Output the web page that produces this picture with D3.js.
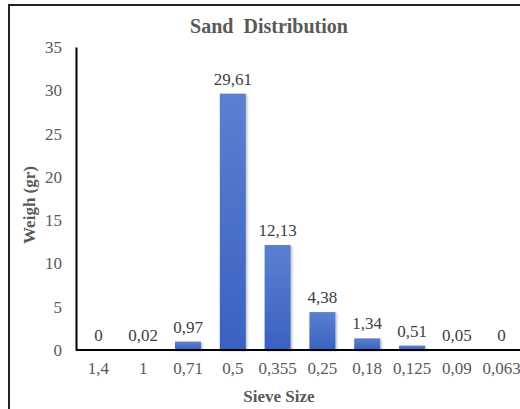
<!DOCTYPE html>
<html><head><meta charset="utf-8">
<script src="https://cdn.jsdelivr.net/npm/d3@7"></script>
<style>body{margin:0;background:#fff}svg{display:block}
text{font-family:"Liberation Serif","Times New Roman",Tinos,"DejaVu Serif",serif;}</style>
</head><body>
<script>
const categories = ["1,4","1","0,71","0,5","0,355","0,25","0,18","0,125","0,09","0,063"];
const values = [0,0.02,0.97,29.61,12.13,4.38,1.34,0.51,0.05,0];
const valueLabels = ["0","0,02","0,97","29,61","12,13","4,38","1,34","0,51","0,05","0"];
const yTicks = [0,5,10,15,20,25,30,35];

const W=520,H=409;
const svg=d3.select("body").append("svg").attr("width",W).attr("height",H);
const defs=svg.append("defs");
const g=defs.append("linearGradient").attr("id","bg").attr("x1",0).attr("y1",0).attr("x2",0).attr("y2",1);
g.append("stop").attr("offset","0%").attr("stop-color","#5b80cf");
g.append("stop").attr("offset","100%").attr("stop-color","#3a61c2");
const f=defs.append("filter").attr("id","sh").attr("x","-20%").attr("y","-20%").attr("width","150%").attr("height","150%");
f.append("feDropShadow").attr("dx",1.5).attr("dy",1).attr("stdDeviation",1.2).attr("flood-color","#000").attr("flood-opacity",0.25);

svg.append("rect").attr("x",9).attr("y",5).attr("width",W).attr("height",H).attr("fill","#fff").attr("stroke","#222").attr("stroke-width",2);

const x=d3.scaleBand().domain(categories).range([76,524]).paddingInner(0.42).paddingOuter(0.21);
const y=d3.scaleLinear().domain([0,35]).range([350,47]);

svg.append("g").selectAll("rect").data(values).join("rect")
  .attr("x",(d,i)=>x(categories[i])).attr("width",x.bandwidth())
  .attr("y",d=>y(d)).attr("height",d=>y(0)-y(d))
  .attr("fill","url(#bg)").attr("filter","url(#sh)");

svg.append("g").selectAll("text").data(values).join("text")
  .attr("x",(d,i)=>x(categories[i])+x.bandwidth()/2).attr("y",d=>y(d)-9)
  .attr("text-anchor","middle").attr("font-size",17).attr("fill","#404040")
  .text((d,i)=>valueLabels[i]);

// y axis
const ya=svg.append("g").attr("transform","translate(76,0)").call(d3.axisLeft(y).tickValues(yTicks).tickSize(0).tickPadding(14));
ya.select(".domain").attr("stroke","#000").attr("stroke-width",2);
ya.selectAll("text").attr("font-family",null).attr("font-size",17).attr("fill","#595959");
ya.attr("font-family",null);

// x axis
const xa=svg.append("g").attr("transform","translate(0,350)").call(d3.axisBottom(x).tickSize(0).tickPadding(12));
xa.select(".domain").attr("stroke","#000").attr("stroke-width",2).attr("d","M76,0H520");
xa.selectAll("text").attr("font-size",17).attr("fill","#595959");
xa.attr("font-family",null);

svg.append("text").attr("x",269).attr("y",33).attr("text-anchor","middle")
  .attr("font-weight","bold").attr("font-size",20).attr("fill","#595959").attr("xml:space","preserve").text("Sand  Distribution");
svg.append("text").attr("x",279).attr("y",402).attr("text-anchor","middle")
  .attr("font-weight","bold").attr("font-size",17).attr("fill","#595959").text("Sieve Size");
svg.append("text").attr("transform","translate(35,205) rotate(-90)").attr("text-anchor","middle")
  .attr("font-weight","bold").attr("font-size",17).attr("fill","#595959").text("Weigh (gr)");
</script>
</body></html>
